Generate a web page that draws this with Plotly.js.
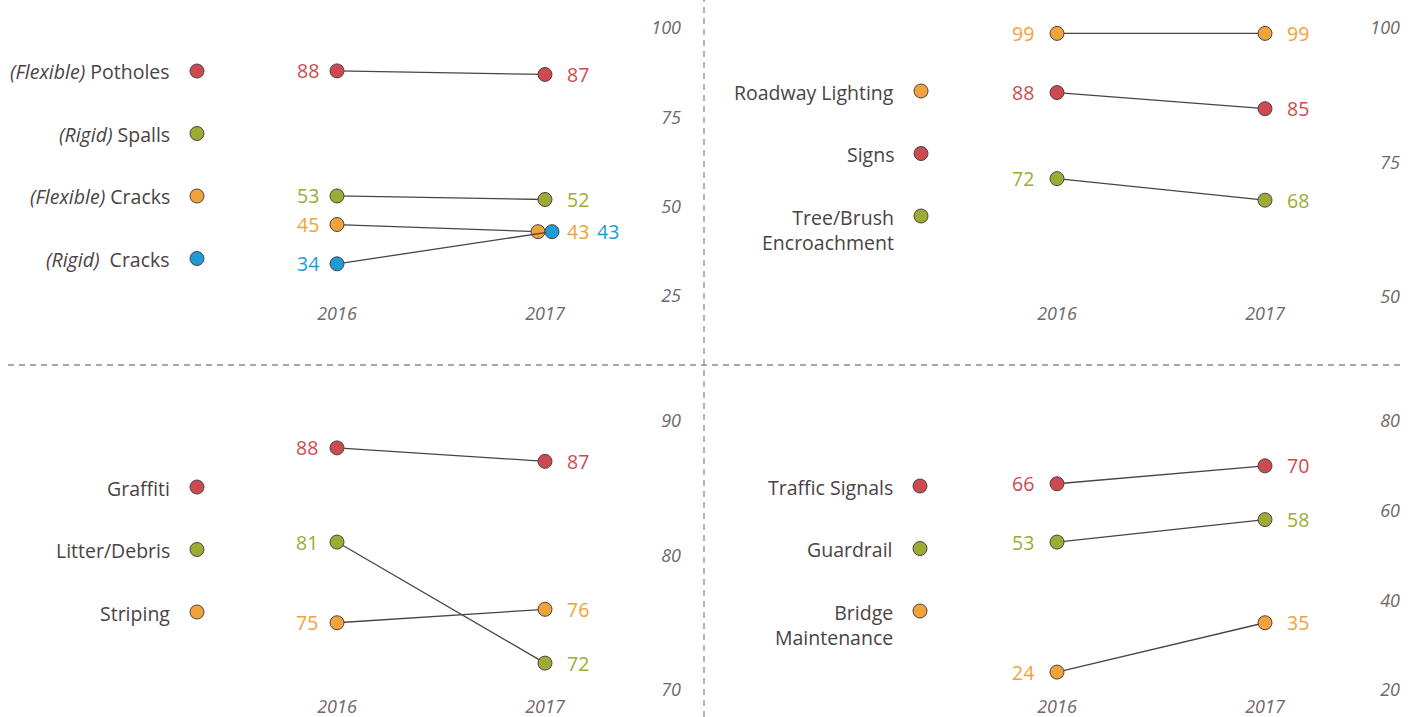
<!DOCTYPE html>
<html>
<head>
<meta charset="utf-8">
<script src="https://cdn.plot.ly/plotly-3.0.1.min.js"></script>
<style>
  html, body { margin: 0; padding: 0; background: #ffffff; }
  #chart { width: 1417px; height: 717px; }
</style>
</head>
<body>
<div id="chart"></div>
<script>
// ---------------- DATA ----------------
const years = [2016, 2017];
const yearLabels = ['2016', '2017'];

// Panel 1 – pavement
const p1Names = ['<i>(Flexible)</i> Potholes', '<i>(Rigid)</i> Spalls', '<i>(Flexible)</i> Cracks', '<i>(Rigid)</i>  Cracks'];
const p1Values2016 = [88, 53, 45, 34];
const p1Values2017 = [87, 52, 43, 43];
const p1Ticks = [25, 50, 75, 100];

// Panel 2 – roadside
const p2Names = ['Roadway Lighting', 'Signs', 'Tree/Brush<br>Encroachment'];
const p2Values2016 = [99, 88, 72];
const p2Values2017 = [99, 85, 68];
const p2Ticks = [50, 75, 100];

// Panel 3 – appearance
const p3Names = ['Graffiti', 'Litter/Debris', 'Striping'];
const p3Values2016 = [88, 81, 75];
const p3Values2017 = [87, 72, 76];
const p3Ticks = [70, 80, 90];

// Panel 4 – structures / traffic
const p4Names = ['Traffic Signals', 'Guardrail', 'Bridge<br>Maintenance'];
const p4Values2016 = [66, 53, 24];
const p4Values2017 = [70, 58, 35];
const p4Ticks = [20, 40, 60, 80];

// ---------------- STYLE ----------------
const RED = '#cc4a50', GREEN = '#9bab33', ORANGE = '#f0a33b', BLUE = '#1d9bd7';
const TEXT = '#4a4344', TICK = '#6e6869', LINE = '#4a4344', DIVIDER = '#8c8c8c';
const FONT = 'Open Sans, sans-serif';
const W = 1417, H = 717;
const PAD = 22; // extra px around tick extent so end labels stay visible

// layout geometry in pixels
const panels = [
  { names: p1Names, v16: p1Values2016, v17: p1Values2017, ticks: p1Ticks,
    colors: [RED, GREEN, ORANGE, BLUE],
    x16: 337, x17: 545, xL: 250, xR: 684, yTop: 28, yBot: 296, yearY: 313,
    legX: 197, legY0: 71, leftGap: -16, dodge: {2: -7, 3: 7}, labelDodge: {3: 30} },
  { names: p2Names, v16: p2Values2016, v17: p2Values2017, ticks: p2Ticks,
    colors: [ORANGE, RED, GREEN],
    x16: 1057, x17: 1265, xL: 970, xR: 1403, yTop: 28, yBot: 297, yearY: 313,
    legX: 921, legY0: 91, leftGap: -21, dodge: {}, labelDodge: {} },
  { names: p3Names, v16: p3Values2016, v17: p3Values2017, ticks: p3Ticks,
    colors: [RED, GREEN, ORANGE],
    x16: 337, x17: 545, xL: 250, xR: 684, yTop: 421, yBot: 690, yearY: 706,
    legX: 197, legY0: 487, leftGap: -17, dodge: {}, labelDodge: {} },
  { names: p4Names, v16: p4Values2016, v17: p4Values2017, ticks: p4Ticks,
    colors: [RED, GREEN, ORANGE],
    x16: 1057, x17: 1265, xL: 970, xR: 1403, yTop: 421, yBot: 690, yearY: 706,
    legX: 920, legY0: 486, leftGap: -21, dodge: {}, labelDodge: {} }
];
const LEG_STEP = 62.5;

const traces = [];
const annotations = [];
const layout = {
  width: W, height: H,
  margin: { l: 0, r: 0, t: 0, b: 0 },
  paper_bgcolor: '#ffffff', plot_bgcolor: 'rgba(0,0,0,0)',
  showlegend: false,
  font: { family: FONT, color: TEXT },
  hovermode: false,
  shapes: [
    { type: 'line', xref: 'paper', yref: 'paper', x0: 704 / W, x1: 704 / W, y0: 0, y1: 1,
      line: { color: DIVIDER, width: 1.3, dash: '6px,5px' } },
    { type: 'line', xref: 'paper', yref: 'paper', x0: 8 / W, x1: 1402 / W, y0: 1 - 365 / H, y1: 1 - 365 / H,
      line: { color: DIVIDER, width: 1.3, dash: '6px,5px' } }
  ],
  annotations: annotations
};

panels.forEach((p, k) => {
  const n = k + 1;
  const xa = n === 1 ? 'x' : 'x' + n;
  const ya = n === 1 ? 'y' : 'y' + n;
  const xKey = n === 1 ? 'xaxis' : 'xaxis' + n;
  const yKey = n === 1 ? 'yaxis' : 'yaxis' + n;
  const pxPerYear = (p.x17 - p.x16) / (years[1] - years[0]);
  const tMin = Math.min(...p.ticks), tMax = Math.max(...p.ticks);
  const pxPerUnit = (p.yBot - p.yTop) / (tMax - tMin);

  layout[xKey] = {
    domain: [p.xL / W, p.xR / W],
    range: [years[0] - (p.x16 - p.xL) / pxPerYear, years[1] + (p.xR - p.x17) / pxPerYear],
    anchor: 'free', position: 1 - (p.yearY - 12) / H,
    tickvals: years, ticktext: yearLabels,
    showgrid: false, zeroline: false, showline: false, ticks: '',
    tickfont: { family: FONT, size: 18, color: TICK, style: 'italic' },
    fixedrange: true
  };
  layout[yKey] = {
    domain: [1 - (p.yBot + PAD) / H, 1 - (p.yTop - PAD) / H],
    range: [tMin - PAD / pxPerUnit, tMax + PAD / pxPerUnit],
    anchor: xa, side: 'right', ticklabelposition: 'inside',
    tickvals: p.ticks, ticktext: p.ticks.map(String),
    showgrid: false, zeroline: false, showline: false, ticks: '',
    tickfont: { family: FONT, size: 18, color: TICK, style: 'italic' },
    fixedrange: true
  };

  // slope lines + markers
  p.names.forEach((name, i) => {
    const off = (p.dodge[i] || 0) / pxPerYear;
    traces.push({
      type: 'scatter', mode: 'lines+markers',
      x: [years[0], years[1] + off], y: [p.v16[i], p.v17[i]],
      xaxis: xa, yaxis: ya, cliponaxis: false,
      line: { color: LINE, width: 1.3 },
      marker: { size: 14, color: p.colors[i], line: { color: LINE, width: 1 } },
      hoverinfo: 'skip'
    });
    annotations.push({
      xref: xa, yref: ya, x: years[0], y: p.v16[i], text: String(p.v16[i]),
      showarrow: false, xanchor: 'right', yanchor: 'middle', xshift: p.leftGap,
      font: { family: FONT, size: 19.5, color: p.colors[i] }
    });
    annotations.push({
      xref: xa, yref: ya, x: years[1], y: p.v17[i], text: String(p.v17[i]),
      showarrow: false, xanchor: 'left', yanchor: 'middle', xshift: 20 + (p.labelDodge[i] || 0),
      font: { family: FONT, size: 19.5, color: p.colors[i] }
    });
  });

  // legend column (text, then marker)
  const ln = 4 + n;
  const lxa = 'x' + ln, lya = 'y' + ln;
  const m = p.names.length;
  layout['xaxis' + ln] = {
    domain: [(p.legX - 10) / W, (p.legX + 10) / W], range: [-1, 1],
    anchor: lya, visible: false, fixedrange: true
  };
  layout['yaxis' + ln] = {
    domain: [1 - (p.legY0 + LEG_STEP * (m - 0.5)) / H, 1 - (p.legY0 - LEG_STEP / 2) / H],
    range: [m - 0.5, -0.5],
    anchor: lxa, visible: false, fixedrange: true
  };
  traces.push({
    type: 'scatter', mode: 'markers',
    x: p.names.map(() => 0), y: p.names.map((_, i) => i),
    xaxis: lxa, yaxis: lya, cliponaxis: false,
    marker: { size: 14, color: p.colors, line: { color: LINE, width: 1 } },
    hoverinfo: 'skip'
  });
  p.names.forEach((name, i) => {
    const lines = name.split('<br>').length;
    annotations.push({
      xref: lxa, yref: lya, x: 0, y: i, text: name,
      showarrow: false, xanchor: 'right', yanchor: 'middle', align: 'right',
      xshift: -25, yshift: -(lines - 1) * 12.5 - 1,
      font: { family: FONT, size: 19.5, color: TEXT }
    });
  });
});

Plotly.newPlot('chart', traces, layout, { displayModeBar: false, staticPlot: true });
</script>
</body>
</html>
